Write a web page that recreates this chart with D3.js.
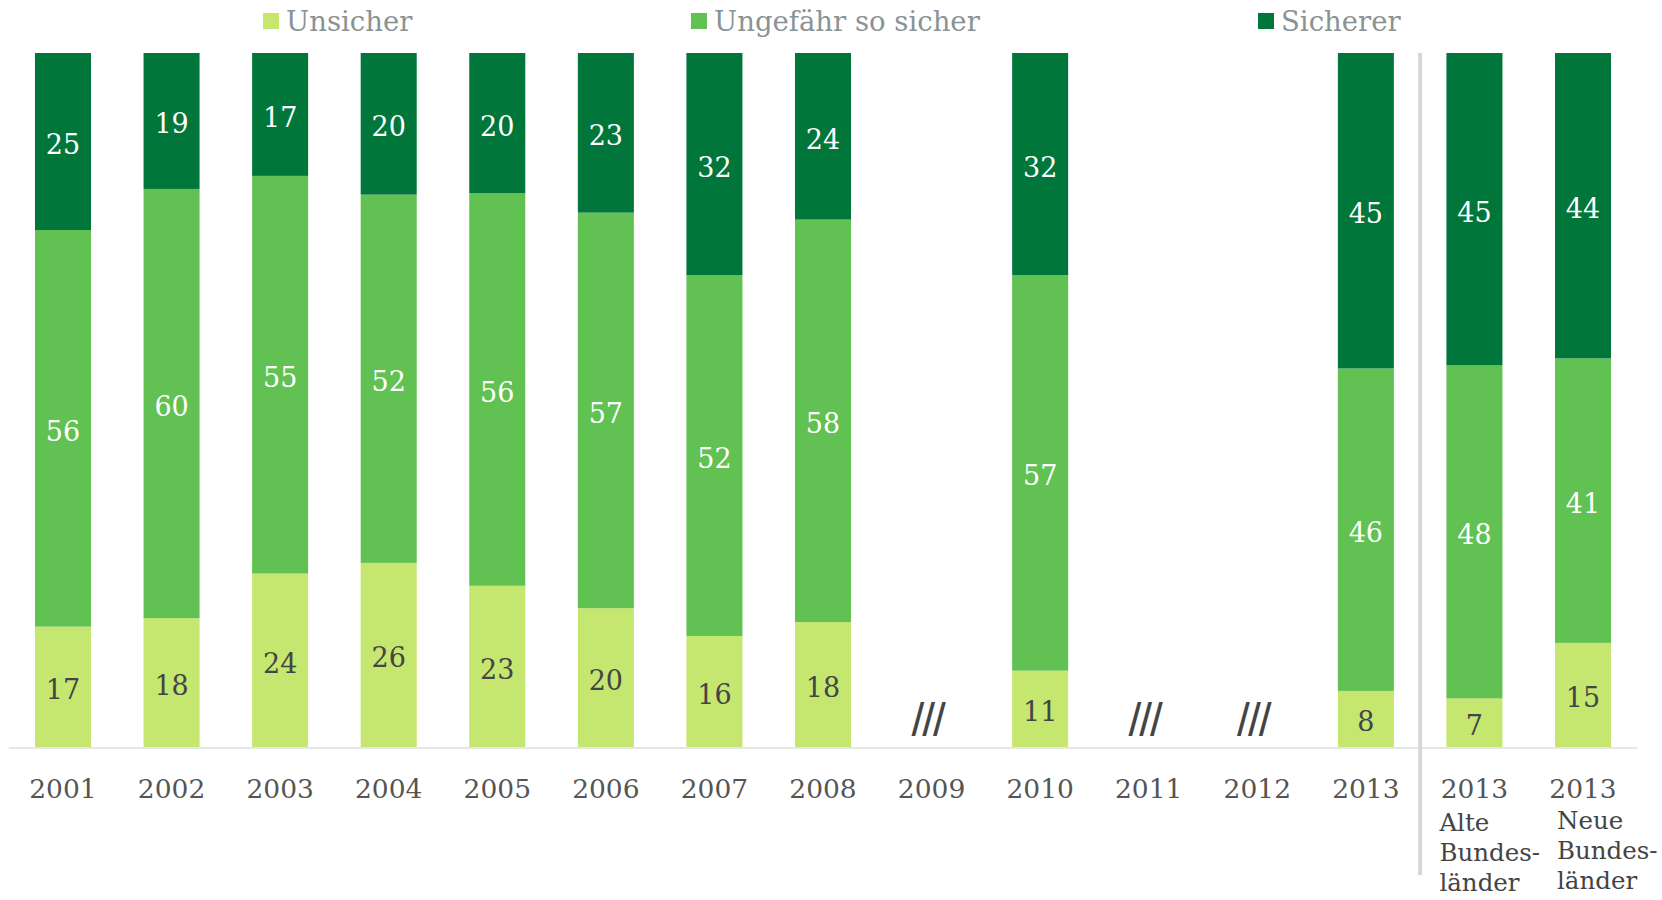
<!DOCTYPE html>
<meta charset="utf-8">
<style>
  body { margin: 0; background: #fff; }
  text { font-family: "DejaVu Serif", "Liberation Serif", serif; }
  .legend text { font-size: 27.5px; fill: #8a9393; }
  .value { font-size: 27px; text-anchor: middle; dominant-baseline: central; }
  .cat { font-size: 26.5px; fill: #555; text-anchor: middle; }
  .sub { font-size: 24.5px; fill: #444; }
  .gap { font-family: "Liberation Sans", sans-serif; font-size: 46px; fill: #444; text-anchor: middle; }
</style>

<svg width="1662" height="900"></svg>
<script src="https://d3js.org/d3.v7.min.js"></script>
<script>
// Data
var categories = ["2001", "2002", "2003", "2004", "2005", "2006", "2007", "2008",
                  "2009", "2010", "2011", "2012", "2013", "2013 Alte", "2013 Neue"];
var catLabels = ["2001", "2002", "2003", "2004", "2005", "2006", "2007", "2008",
                 "2009", "2010", "2011", "2012", "2013", "2013", "2013"];
var subLabels = {"2013 Alte": ["Alte", "Bundes-", "länder"],
                 "2013 Neue": ["Neue", "Bundes-", "länder"]};
var unsicher  = [17, 18, 24, 26, 23, 20, 16, 18, null, 11, null, null, 8, 7, 15];
var ungefaehr = [56, 60, 55, 52, 56, 57, 52, 58, null, 57, null, null, 46, 48, 41];
var sicherer  = [25, 19, 17, 20, 20, 23, 32, 24, null, 32, null, null, 45, 45, 44];
var seriesNames = ["Unsicher", "Ungefähr so sicher", "Sicherer"];
var colors = ["#c5e66f", "#61c152", "#01763a"];
var labelColors = ["#444", "#fff", "#fff"];

var svg = d3.select("svg");

var table = categories.map(function (c, i) {
  return {cat: c, "Unsicher": unsicher[i], "Ungefähr so sicher": ungefaehr[i], "Sicherer": sicherer[i]};
});
var present = table.filter(function (d) { return d["Unsicher"] != null; });
var missing = table.filter(function (d) { return d["Unsicher"] == null; });

var x = d3.scaleBand()
    .domain(categories)
    .range([8.7, 1637.3])
    .paddingInner(0.484)
    .paddingOuter(0.242);
var y = d3.scaleLinear().domain([0, 1]).range([747, 53]);

var stack = d3.stack().keys(seriesNames).offset(d3.stackOffsetExpand);
var layers = stack(present);

// Bars
var layer = svg.append("g").selectAll("g")
  .data(layers)
  .enter().append("g")
    .attr("fill", function (d, i) { return colors[i]; });

layer.selectAll("rect")
  .data(function (d) { return d; })
  .enter().append("rect")
    .attr("x", function (d) { return x(d.data.cat); })
    .attr("width", x.bandwidth())
    .attr("y", function (d) { return y(d[1]); })
    .attr("height", function (d) { return y(d[0]) - y(d[1]); });

// Value labels
layers.forEach(function (l, i) {
  svg.append("g").selectAll("text")
    .data(l)
    .enter().append("text")
      .attr("class", "value")
      .attr("fill", labelColors[i])
      .attr("x", function (d) { return x(d.data.cat) + x.bandwidth() / 2; })
      .attr("y", function (d) { return (y(d[0]) + y(d[1])) / 2 + 3; })
      .text(function (d) { return d.data[l.key]; });
});

// Axis line
svg.append("line")
    .attr("x1", x.range()[0]).attr("x2", x.range()[1])
    .attr("y1", y(0) + 1).attr("y2", y(0) + 1)
    .attr("stroke", "#e3e7e7").attr("stroke-width", 2);

// Separator between totals and regional split
var sepX = (x("2013") + x("2013 Alte") + x.bandwidth()) / 2;
svg.append("line")
    .attr("x1", sepX).attr("x2", sepX)
    .attr("y1", y(1)).attr("y2", 875)
    .attr("stroke", "#d6d6d6").attr("stroke-width", 4);

// Missing years
svg.append("g").selectAll("text")
  .data(missing)
  .enter().append("text")
    .attr("class", "gap")
    .attr("x", function (d) { return x(d.cat) + x.bandwidth() / 2 - 4; })
    .attr("y", y(0) - 11)
    .attr("letter-spacing", "-2")
    .text("///");

// Category labels
svg.append("g").selectAll("text")
  .data(categories)
  .enter().append("text")
    .attr("class", "cat")
    .attr("x", function (d) { return x(d) + x.bandwidth() / 2; })
    .attr("y", 798)
    .text(function (d, i) { return catLabels[i]; });

var subShift = {"2013 Alte": [-7, 831], "2013 Neue": [2, 829]};
Object.keys(subLabels).forEach(function (c) {
  var sx = x(c) + subShift[c][0];
  var t = svg.append("text")
      .attr("class", "sub")
      .attr("x", sx)
      .attr("y", subShift[c][1]);
  subLabels[c].forEach(function (s, j) {
    t.append("tspan")
      .attr("x", sx)
      .attr("dy", j === 0 ? 0 : 30)
      .text(s);
  });
});

// Legend
var legendX = [263, 691, 1258];
var legend = svg.append("g").attr("class", "legend")
  .selectAll("g")
  .data(seriesNames)
  .enter().append("g")
    .attr("transform", function (d, i) { return "translate(" + legendX[i] + ",21)"; });
legend.append("rect")
    .attr("x", 0).attr("y", -8)
    .attr("width", 16).attr("height", 16)
    .attr("fill", function (d, i) { return colors[i]; });
legend.append("text")
    .attr("x", 23).attr("y", 10)
    .text(function (d) { return d; });
</script>
